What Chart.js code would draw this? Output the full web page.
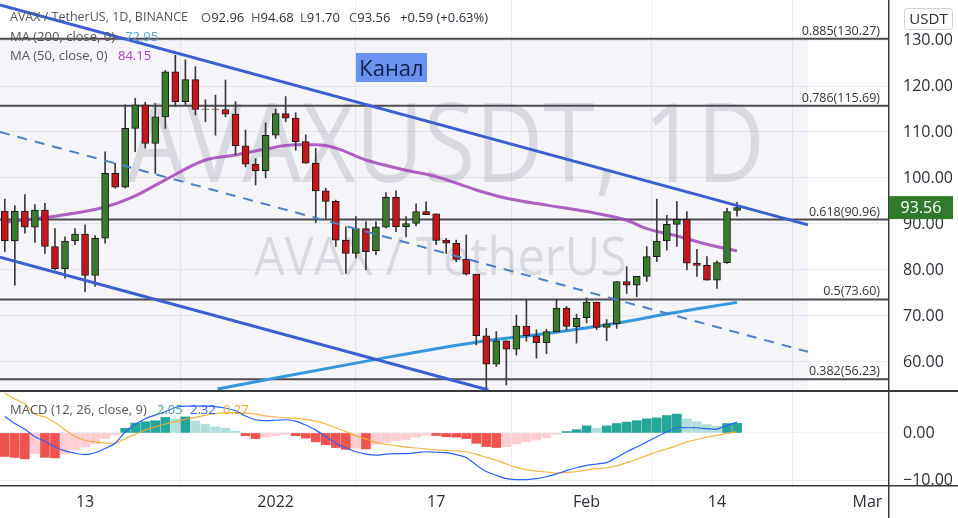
<!DOCTYPE html>
<html><head><meta charset="utf-8">
<script src="https://cdn.jsdelivr.net/npm/chart.js@4/dist/chart.umd.min.js"></script>
<style>
html,body{margin:0;padding:0;background:#fff;width:958px;height:518px;overflow:hidden;font-family:"Open Sans",sans-serif;}
#wrap{position:relative;width:958px;height:518px;}
canvas{position:absolute;left:0;}
#c1{top:0;}
#c2{top:390px;}
.lg{position:absolute;font-size:13px;color:#555;white-space:nowrap;line-height:16px;z-index:5;}
.lg b{font-weight:normal;color:#2a2e39;}
#canal{position:absolute;left:356px;top:53px;width:71px;height:29px;background:#6a93ef;color:#12204d;font-size:22px;line-height:29px;text-align:center;z-index:5;}
</style></head>
<body><div id="wrap">
<canvas id="c1" width="958" height="390" style="width:958px;height:390px"></canvas>
<canvas id="c2" width="958" height="128" style="width:958px;height:128px"></canvas>
<div class="lg" style="top:9px;left:10px;font-size:12.5px">AVAX / TetherUS, 1D, BINANCE</div>
<div class="lg" style="top:9px;left:201px">O<b>92.96</b></div>
<div class="lg" style="top:9px;left:251px">H<b>94.68</b></div>
<div class="lg" style="top:9px;left:300px">L<b>91.70</b></div>
<div class="lg" style="top:9px;left:349px">C<b>93.56</b></div>
<div class="lg" style="top:9px;left:400px"><b>+0.59 (+0.63%)</b></div>
<div class="lg" style="top:28px;left:10px">MA (200, close, 0)</div>
<div class="lg" style="top:28px;left:125px;color:#5aa8d6">72.95</div>
<div class="lg" style="top:47px;left:10px">MA (50, close, 0)</div>
<div class="lg" style="top:47px;left:118px;color:#ab47bc">84.15</div>
<div class="lg" style="top:401px;left:10px">MACD (12, 26, close, 9)</div>
<div class="lg" style="top:401px;left:157px;color:#4f9e98">2.05</div>
<div class="lg" style="top:401px;left:190px;color:#2962ff">2.32</div>
<div class="lg" style="top:401px;left:223px;color:#f0a830">0.27</div>
<div id="canal">Канал</div>
</div>
<script>
// ---------- DATA ----------
const tickIdx = [8, 27, 43, 58, 71, 86];
const tickLabels = ['13', '2022', '17', 'Feb', '14', 'Mar'];
const priceTicks = [60, 70, 80, 90, 100, 110, 120, 130];
const macdTicks = [0, -10];

const opens  = [92.8,86.3,92.8,89.3,93.0,85.1,80.3,86.3,87.8,78.8,86.9,101.0,98.0,110.8,115.9,107.5,113.3,123.1,116.6,121.4,114.9,115.0,114.9,113.9,107.0,103.0,101.6,109.3,114.0,113.0,107.9,103.2,97.2,94.9,86.5,83.6,89.0,84.2,89.3,95.8,89.4,90.1,92.7,92.2,86.5,85.8,82.3,79.1,65.7,59.5,64.6,62.8,67.8,65.7,64.2,66.6,71.7,67.6,69.6,73.0,67.5,68.3,77.5,76.7,78.6,82.9,86.3,89.9,91.0,81.5,81.0,77.8,81.6,92.96];
const highs  = [95.4,94.0,96.4,94.2,94.5,89.0,87.2,89.0,89.8,87.5,105.7,103.2,115.9,117.3,116.5,116.2,123.4,126.7,125.7,124.2,117.0,118.0,121.3,116.6,110.4,104.2,112.0,115.0,117.7,114.2,109.4,106.4,97.8,95.2,89.4,91.6,90.5,90.5,96.8,97.2,91.6,94.4,94.8,92.2,86.9,86.5,87.6,79.1,67.3,66.6,64.6,70.2,73.5,67.0,67.1,73.5,72.1,70.4,73.9,73.0,69.2,77.5,80.7,78.6,85.1,95.4,91.9,94.9,92.7,84.5,82.9,82.0,93.4,94.68];
const lows   = [84.0,76.7,88.0,86.0,83.6,80.0,78.2,85.5,75.3,76.4,85.8,97.8,97.8,105.7,106.5,101.0,110.8,115.6,116.0,113.7,112.2,109.3,113.3,105.0,102.4,98.5,100.0,108.6,112.2,106.0,103.2,90.3,91.2,85.1,79.3,82.6,80.0,83.3,89.1,88.3,87.2,89.6,92.0,85.5,83.6,81.8,78.9,63.7,53.9,59.0,55.0,61.5,64.5,60.8,61.8,66.6,66.9,64.1,68.5,67.0,64.6,67.3,74.9,74.2,77.5,81.8,84.3,85.1,80.0,78.6,77.8,76.0,81.4,91.70];
const closes = [86.3,92.8,89.3,93.0,85.1,80.3,86.3,87.8,78.8,86.9,101.0,98.0,110.8,115.9,107.5,113.3,123.1,116.6,121.4,114.9,115.0,114.9,113.9,107.0,103.0,101.6,109.3,114.0,113.0,107.9,103.2,97.2,94.9,86.5,83.6,89.0,84.0,89.4,95.8,89.4,90.1,92.7,92.0,86.4,85.8,82.3,79.1,65.7,59.5,64.6,62.8,67.8,65.7,64.2,66.6,71.7,67.7,69.5,73.0,67.5,68.3,77.5,76.7,78.6,82.9,86.3,89.9,91.0,81.5,81.0,77.8,81.6,92.7,93.56];

const ma50Idx = [0,5,10,13,16,20,23,26,29,31,33,36,40,43,47,50,54,58,62,64,67,70,73];
const ma50Val = [90.4,91.7,93.7,96.1,99.6,103.9,105.0,106.3,107.2,107.2,106.5,103.9,101.7,100.3,97.4,95.6,94.1,92.7,90.8,89.0,87.4,85.6,84.15];
const ma200Idx = [21.2,36.6,47,54.4,61.7,65.4,73];
const ma200Val = [54.1,60.4,64.3,66.3,68.7,70.2,72.95];

const upperChanIdx = [-0.48, 80.08], upperChanVal = [137.6, 89.8];
const midChanIdx   = [-0.48, 80.08], midChanVal   = [110.0, 62.2];
const lowerChanIdx = [-0.48, 48.2],  lowerChanVal = [82.8, 53.9];

const fibRatios = ['0.885', '0.786', '0.618', '0.5', '0.382'];
const fibValues = [130.27, 115.69, 90.96, 73.60, 56.23];
const fibZoneEndIdx = 80.08;
const lastClose = 93.56;

const macdHist   = [-5.0,-5.2,-5.5,-4.4,-5.2,-5.3,-4.5,-3.6,-3.0,-2.3,-1.2,-0.4,1.0,2.1,2.4,2.6,3.3,3.0,3.4,2.5,1.8,1.3,1.0,0.4,-0.6,-1.2,-0.9,-0.6,-0.3,-0.6,-1.1,-1.9,-2.5,-3.1,-3.5,-3.2,-3.4,-2.4,-2.0,-1.7,-1.4,-0.9,-0.5,-0.55,-0.8,-0.9,-1.2,-2.2,-2.9,-3.1,-2.9,-2.3,-1.9,-1.5,-1.0,-0.3,0.3,0.7,1.5,1.0,1.5,2.0,2.3,2.6,3.0,3.2,3.7,4.0,3.0,2.4,1.8,1.4,2.0,2.05];
const macdLine   = [3.5,2.0,0.8,-0.8,-1.8,-3.0,-3.8,-4.3,-4.6,-4.2,-3.3,-2.2,0.2,1.8,3.0,3.8,4.5,5.4,5.7,5.7,5.7,5.6,5.3,4.7,3.6,2.8,2.6,2.7,2.8,2.5,1.7,0.6,-0.8,-2.2,-3.2,-4.0,-4.5,-4.7,-4.5,-4.4,-4.4,-4.2,-4.0,-4.1,-4.2,-4.6,-5.2,-6.8,-8.2,-9.0,-9.7,-9.9,-9.9,-9.7,-9.3,-8.7,-8.0,-7.4,-6.9,-6.6,-6.3,-5.2,-4.0,-3.0,-1.9,-0.8,0.2,1.1,1.1,1.1,0.9,0.8,1.6,2.32];
const macdSignal = [8.5,7.2,6.2,4.0,3.4,2.2,0.7,-0.7,-1.6,-1.9,-2.1,-2.2,-1.2,-0.3,0.6,1.3,1.9,2.4,2.9,3.3,3.8,4.1,4.3,4.3,4.2,4.0,3.6,3.4,3.2,3.1,2.9,2.5,1.9,1.1,0.3,-0.6,-1.3,-2.0,-2.4,-2.7,-3.0,-3.2,-3.4,-3.6,-3.7,-3.8,-4.0,-4.5,-5.2,-5.8,-6.6,-7.3,-7.8,-8.1,-8.3,-8.5,-8.4,-8.2,-7.9,-7.6,-7.4,-7.0,-6.3,-5.6,-4.8,-4.0,-3.4,-2.7,-1.9,-1.4,-0.9,-0.5,-0.1,0.27];

// ---------- BUILD ----------
const X_MIN = -0.48, X_MAX = 88.05;
const FONT = '"Open Sans", sans-serif';
const GRID = '#eceef3';
const pts = (xs, ys) => xs.map((x, i) => ({x, y: ys[i]}));
const bodies = opens.map((o, i) => ({x: i, y: [o, closes[i] === o ? o + 0.15 : closes[i]]}));
const wicks = opens.map((o, i) => ({x: i, y: [lows[i], highs[i]]}));
const bodyColors = opens.map((o, i) => closes[i] >= o ? '#3b7a2e' : '#c5161c');

function lineDs(data, color, width, extra) {
  return Object.assign({type: 'line', data, borderColor: color, borderWidth: width, pointRadius: 0, fill: false, tension: 0}, extra || {});
}
function noPad(s) { s.paddingTop = 0; s.paddingBottom = 0; s.paddingLeft = 0; s.paddingRight = 0; }

const mainDatasets = [];
mainDatasets.push(lineDs([{x: X_MIN, y: fibValues[0]}, {x: fibZoneEndIdx, y: fibValues[0]}], 'rgba(0,0,0,0)', 0,
  {fill: 'start', backgroundColor: 'rgba(110,110,180,0.075)', order: 100}));
fibValues.forEach(v => mainDatasets.push(lineDs([{x: X_MIN, y: v}, {x: X_MAX, y: v}], '#4a4a4f', 2, {order: 90})));
mainDatasets.push(lineDs(pts(ma200Idx, ma200Val), '#3598dc', 3, {tension: 0.4, cubicInterpolationMode: 'monotone', order: 10}));
mainDatasets.push(lineDs(pts(ma50Idx, ma50Val), 'rgba(160,70,185,0.85)', 3, {tension: 0.4, cubicInterpolationMode: 'monotone', order: 10}));
mainDatasets.push({type: 'bar', data: wicks, backgroundColor: '#3a3a3a', borderWidth: 0, barThickness: 1, grouped: false, order: 6});
mainDatasets.push({type: 'bar', data: bodies, backgroundColor: bodyColors, borderColor: '#1a1a1a', borderWidth: 1, borderSkipped: false, barThickness: 7, grouped: false, order: 5});
mainDatasets.push(lineDs(pts(midChanIdx, midChanVal), '#4d80c4', 2, {borderDash: [10, 8], order: 2}));
mainDatasets.push(lineDs(pts(upperChanIdx, upperChanVal), '#3a5fcf', 3, {order: 1}));
mainDatasets.push(lineDs(pts(lowerChanIdx, lowerChanVal), '#3a5fcf', 3, {order: 1}));

function fitText(ctx, text, left, right, baseline, size) {
  ctx.font = size + 'px ' + FONT;
  const w = ctx.measureText(text).width;
  ctx.save();
  ctx.translate(left, baseline);
  ctx.scale((right - left) / w, 1);
  ctx.textAlign = 'left'; ctx.textBaseline = 'alphabetic';
  ctx.fillText(text, 0, 0);
  ctx.restore();
}

const mainPlugin = {
  id: 'mainDecor',
  beforeDatasetsDraw(chart) {
    const ctx = chart.ctx;
    ctx.save();
    ctx.fillStyle = 'rgba(110,112,125,0.2)';
    fitText(ctx, 'AVAXUSDT, 1D', 127, 765, 182, 110);
    fitText(ctx, 'AVAX / TetherUS', 254, 627, 275, 53);
    ctx.restore();
  },
  afterDatasetsDraw(chart) {
    const ctx = chart.ctx, y = chart.scales.y;
    ctx.save();
    ctx.font = '12.5px ' + FONT;
    ctx.fillStyle = '#333';
    ctx.textAlign = 'right'; ctx.textBaseline = 'alphabetic';
    fibValues.forEach((v, i) => {
      ctx.fillText(fibRatios[i] + '(' + v.toFixed(2) + ')', 880, y.getPixelForValue(v) - 4);
    });
    ctx.restore();
  },
  afterDraw(chart) {
    const ctx = chart.ctx, y = chart.scales.y, area = chart.chartArea;
    ctx.save();
    ctx.fillStyle = '#3a3a3a';
    ctx.fillRect(area.right, 0, 1.5, chart.height);
    ctx.beginPath();
    ctx.roundRect(904.5, 8.5, 48, 21, 3);
    ctx.fillStyle = '#fff'; ctx.fill();
    ctx.strokeStyle = '#cfd2da'; ctx.lineWidth = 1; ctx.stroke();
    ctx.fillStyle = '#2a2e39'; ctx.font = '15px ' + FONT;
    ctx.textAlign = 'center'; ctx.textBaseline = 'middle';
    ctx.fillText('USDT', 928.5, 19.5);
    const py = y.getPixelForValue(lastClose);
    ctx.fillStyle = '#2f7a2c';
    ctx.fillRect(area.right + 1, py - 11.5, 64, 23);
    ctx.fillStyle = '#fff'; ctx.font = '16px ' + FONT;
    ctx.fillText(lastClose.toFixed(2), 921, py + 0.5);
    ctx.restore();
  }
};

const xCommon = {
  type: 'linear', min: X_MIN, max: X_MAX, offset: false,
  afterBuildTicks: s => { s.ticks = tickIdx.map(v => ({value: v})); },
  grid: {color: GRID, drawTicks: false}, border: {display: false}
};

new Chart(document.getElementById('c1'), {
  type: 'bar',
  data: {datasets: mainDatasets},
  options: {
    responsive: false, animation: false, events: [], devicePixelRatio: 1,
    layout: {padding: 0},
    plugins: {legend: {display: false}, tooltip: {enabled: false}},
    scales: {
      x: Object.assign({}, xCommon, {ticks: {display: false}, afterFit: s => { s.height = 0; noPad(s); }}),
      y: {
        position: 'right', min: 53.9, max: 138.7,
        afterBuildTicks: s => { s.ticks = priceTicks.map(v => ({value: v})); },
        afterFit: s => { s.width = 70; noPad(s); },
        ticks: {padding: 15, color: '#2a2e39', font: {family: FONT, size: 16}, callback: v => v.toFixed(2)},
        grid: {color: GRID, drawTicks: false}, border: {display: false}
      }
    }
  },
  plugins: [mainPlugin]
});

// ---------- MACD ----------
const histColors = macdHist.map((h, i) => {
  const p = i > 0 ? macdHist[i - 1] : h;
  if (h >= 0) return h >= p ? '#26a69a' : '#b2dfdb';
  return h <= p ? '#ef5350' : '#ffcdd2';
});
const idxs = macdHist.map((_, i) => i);

const macdPlugin = {
  id: 'macdDecor',
  afterDraw(chart) {
    const ctx = chart.ctx, area = chart.chartArea;
    ctx.save();
    ctx.fillStyle = '#3a3a3a';
    ctx.fillRect(0, 0, chart.width, 2);
    ctx.fillRect(0, area.bottom, chart.width, 1.5);
    ctx.fillRect(area.right, 0, 1.5, chart.height);
    ctx.restore();
  }
};

new Chart(document.getElementById('c2'), {
  type: 'bar',
  data: {datasets: [
    lineDs(pts(idxs, macdLine), '#2962ff', 1.2, {tension: 0.3, order: 1}),
    lineDs(pts(idxs, macdSignal), 'rgba(240,168,40,0.85)', 1.2, {tension: 0.3, order: 1}),
    {type: 'bar', data: pts(idxs, macdHist), backgroundColor: histColors, borderWidth: 0, barThickness: 9, grouped: false, order: 5}
  ]},
  options: {
    responsive: false, animation: false, events: [], devicePixelRatio: 1,
    layout: {padding: {top: 2, left: 0, right: 0, bottom: 0}},
    plugins: {legend: {display: false}, tooltip: {enabled: false}},
    scales: {
      x: Object.assign({}, xCommon, {
        ticks: {display: true, autoSkip: false, maxRotation: 0, padding: 8, color: '#2a2e39', font: {family: FONT, size: 16},
          callback: (v) => { const k = tickIdx.indexOf(v); return k >= 0 ? tickLabels[k] : ''; }},
        afterFit: s => { s.height = 33; noPad(s); }
      }),
      y: {
        position: 'right', min: -11.06, max: 8.7,
        afterBuildTicks: s => { s.ticks = macdTicks.map(v => ({value: v})); },
        afterFit: s => { s.width = 70; noPad(s); },
        ticks: {padding: 15, color: '#2a2e39', font: {family: FONT, size: 16}, callback: v => (v < 0 ? '\u2212' : '') + Math.abs(v).toFixed(2)},
        grid: {color: GRID, drawTicks: false}, border: {display: false}
      }
    }
  },
  plugins: [macdPlugin]
});
</script>
</body></html>
